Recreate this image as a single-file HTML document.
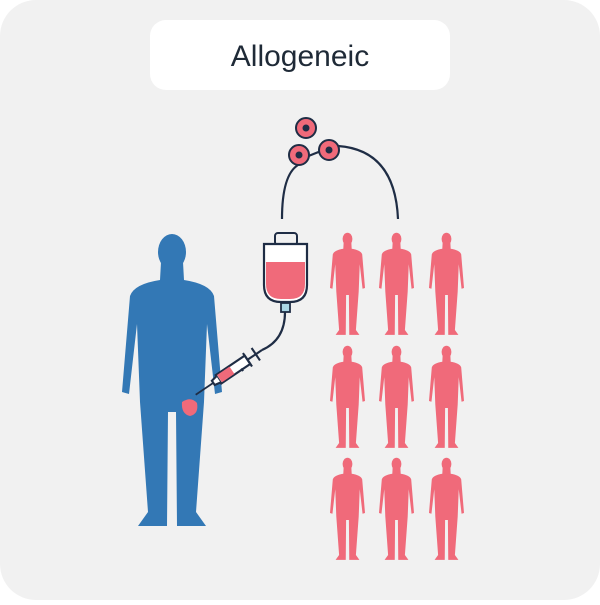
<!DOCTYPE html>
<html><head><meta charset="utf-8"><style>
html,body{margin:0;padding:0;background:#fff;}
body{width:600px;height:600px;overflow:hidden;}
</style></head><body>
<svg width="600" height="600" viewBox="0 0 600 600" xmlns="http://www.w3.org/2000/svg">
<defs>
<g id="man">
<ellipse cx="50" cy="20" rx="14" ry="18"/>
<path d="M39 30 L61 30 L62 48 Q88 52 92 64 L100 160 L93 162 L85 92 L82 170 L74 280 L84 294 L55 294 L54 180 L46 180 L45 294 L16 294 L26 280 L18 170 L15 92 L7 162 L0 160 L8 64 Q12 52 38 48 Z"/>
</g>
</defs>
<rect x="0" y="0" width="600" height="600" rx="36" fill="#f1f1f1"/>
<rect x="150" y="20" width="300" height="70" rx="16" fill="#fff"/>
<text x="300" y="66" text-anchor="middle" font-family="Liberation Sans, sans-serif" font-size="30" fill="#1f2a37">Allogeneic</text>

<use href="#man" transform="translate(122,232)" fill="#3378b5"/>
<g fill="#f06a7a">
<use href="#man" transform="translate(330,232) scale(0.35)"/>
<use href="#man" transform="translate(379,232) scale(0.35)"/>
<use href="#man" transform="translate(429,232) scale(0.35)"/>
<use href="#man" transform="translate(330,345) scale(0.35)"/>
<use href="#man" transform="translate(379,345) scale(0.35)"/>
<use href="#man" transform="translate(429,345) scale(0.35)"/>
<use href="#man" transform="translate(330,457) scale(0.35)"/>
<use href="#man" transform="translate(379,457) scale(0.35)"/>
<use href="#man" transform="translate(429,457) scale(0.35)"/>
</g>

<g fill="none" stroke="#1f2d45" stroke-width="2.2">
<path d="M282 219 Q282 175 298 165"/>
<path d="M338 146 Q395 150 398 219"/>
<path d="M306 157 L321 151"/>
<path d="M285 312 Q285 340 262 350"/>
</g>
<g stroke="#1f2d45" stroke-width="2" fill="#f06a7a">
<circle cx="306" cy="128" r="10"/>
<circle cx="299" cy="155" r="10"/>
<circle cx="329" cy="150" r="10"/>
</g>
<g fill="#1f2d45">
<circle cx="306" cy="128" r="3.5"/><circle cx="299" cy="155" r="3.5"/><circle cx="329" cy="150" r="3.5"/>
</g>

<!-- IV bag -->
<rect x="275" y="233" width="22" height="12" rx="3" fill="none" stroke="#1f2d45" stroke-width="2"/>
<path d="M264 244 L307 244 L307 285 Q307 302 290 302 L281 302 Q264 302 264 285 Z" fill="#fff" stroke="#1f2d45" stroke-width="2.2"/>
<path d="M266 262 L305 262 L305 284 Q305 299 290 299 L281 299 Q266 299 266 284 Z" fill="#f06a7a"/>
<rect x="281" y="303" width="9" height="9" fill="#a9d6e5" stroke="#1f2d45" stroke-width="1.8"/>

<!-- syringe -->
<g transform="translate(262,350) rotate(146) scale(1.25)" stroke="#1f2d45" stroke-width="1.7" fill="none">
<line x1="0" y1="0" x2="6" y2="0"/>
<line x1="6" y1="-6" x2="6" y2="6"/>
<line x1="6" y1="0" x2="14" y2="0"/>
<rect x="14" y="-4" width="28" height="8" fill="#fff"/>
<rect x="29" y="-3.5" width="12" height="7" fill="#f06a7a" stroke="none"/>
<line x1="22" y1="-5.5" x2="22" y2="-3"/>
<line x1="14" y1="-6.5" x2="14" y2="6.5"/>
<path d="M42 -3 L47 -2 L47 2 L42 3" fill="#fff"/>
<line x1="47" y1="0" x2="64" y2="0" stroke-width="1.4"/>
</g>
<path d="M182 402 Q191 396 197 403 Q199 414 190 416 Q181 414 182 402 Z" fill="#f06a7a"/>
</svg>
</body></html>
